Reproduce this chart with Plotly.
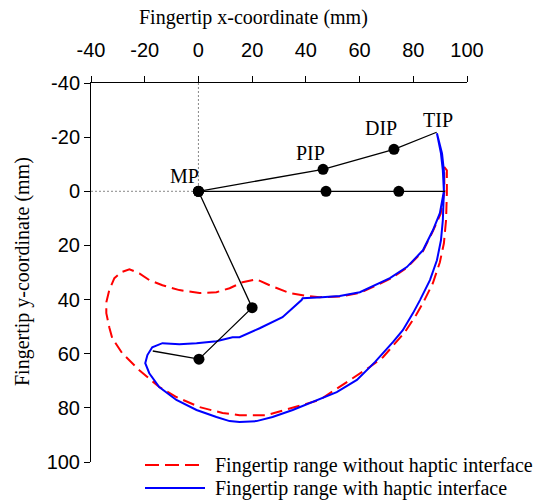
import plotly.graph_objects as go

# ---- data (mm) ----
red_x = [91.5, 92.5, 92.5, 92.2, 91.4, 89.9, 87.3, 83.6, 81.0, 76.9, 68.7, 63.8, 45.1, 30.2, 25.4, 15.3, 9.0,
         0.4, -8.2, -14.6, -22.0, -28.4, -32.1, -33.2, -34.3, -34.3, -33.2, -31.3, -28.7, -25.7, -22.0,
         -18.3, -13.4, -7.1, 0.4, 6.7, 11.6, 16.4, 21.6, 26.5, 34.0, 40.3, 45.1, 52.6, 60.1, 67.5, 71.3,
         77.6, 83.6, 87.3, 90.2, 91.6, 91.5]
red_y = [-9.0, -7.7, 0.7, 10.7, 19.2, 26.2, 33.9, 41.3, 45.8, 52.0, 61.3, 64.9, 77.1, 81.5, 82.7, 82.7, 81.9,
         79.7, 76.0, 72.3, 66.1, 59.8, 54.2, 50.2, 45.0, 41.0, 36.5, 32.1, 29.9, 28.8, 30.3,
         32.8, 34.7, 36.5, 37.6, 37.3, 35.8, 33.6, 32.5, 34.7, 37.6, 38.7, 39.1, 38.9, 37.5, 34.2, 32.4,
         28.3, 22.1, 14.7, 8.3, 0.0, -9.0]

blue_x = [88.8, 90.7, 91.4, 91.4, 91.0, 90.3, 88.8, 86.2, 82.5, 79.9, 76.1, 72.4, 65.7, 59.0, 51.5, 42.5,
          35.1, 27.6, 21.6, 15.3, 11.6, 6.7, -0.7, -8.2, -14.6, -18.3, -19.8, -19.0, -17.2, -13.4, -7.1,
          -0.7, 6.7, 12.7, 15.3, 22.8, 31.3, 38.4, 38.8, 45.9, 52.6, 60.1, 67.5, 71.3, 77.6, 83.6, 87.3,
          89.9, 91.4, 91.0, 90.3, 88.8]
blue_y = [-21.4, -14.0, -7.7, 0.0, 10.7, 18.1, 25.5, 32.8, 40.2, 45.0, 51.3, 55.7, 63.1, 69.7, 74.2, 77.9,
          80.8, 83.4, 84.9, 85.2, 84.9, 83.4, 80.8, 77.1, 72.3, 67.2, 63.5, 60.5, 57.6, 56.1, 56.5,
          56.1, 55.4, 53.9, 53.9, 50.6, 46.5, 40.2, 39.5, 39.1, 38.7, 37.3, 33.9, 32.1, 28.0, 21.8, 14.4,
          8.1, 0.0, -7.7, -14.0, -21.4]

# finger segments: MP, PIP, DIP, TIP
up_x = [0, 46.4, 72.8, 88.7]
up_y = [0, -8.1, -15.5, -21.8]
flat_x = [0, 47.5, 74.6, 91.8]
flat_y = [0, 0, 0, 0]
down_x = [0, 20.0, 0.2, -17.0]
down_y = [0, 43.0, 62.0, 59.0]

joint_labels = ["MP", "PIP", "DIP", "TIP"]
label_x = [-5.2, 41.8, 67.9, 89.2]
label_y = [-5.5, -14.0, -23.2, -26.2]

x_ticks = [-40, -20, 0, 20, 40, 60, 80, 100]
x_ticktext = ["-40", "-20", "0", "20", "40", "60", "80", "100"]
y_ticks = [-40, -20, 0, 20, 40, 60, 80, 100]
y_ticktext = ["-40", "-20", "0", "20", "40", "60", "80", "100"]

legend_names = ["Fingertip range without haptic interface", "Fingertip range with haptic interface"]

SERIF = "Liberation Serif, Times New Roman, serif"
SANS = "Liberation Sans, Arial, sans-serif"

# plot area in reference pixels (for placing decorations in paper coords)
W, H = 534, 503
PL, PR, PT, PB = 91, 467, 83, 462
PW, PH = PR - PL, PB - PT


def px(xp):
    return (xp - PL) / PW


def py(yp):
    return (PB - yp) / PH


fig = go.Figure()

# reference dotted lines
fig.add_trace(go.Scatter(x=[0, 0], y=[-40, 0], mode="lines",
                         line=dict(color="#888888", width=1, dash="2px,2px"), showlegend=False, hoverinfo="skip"))
fig.add_trace(go.Scatter(x=[-40, 0], y=[0, 0], mode="lines",
                         line=dict(color="#888888", width=1, dash="2px,2px"), showlegend=False, hoverinfo="skip"))

fig.add_trace(go.Scatter(x=red_x, y=red_y, mode="lines", name=legend_names[0],
                         line=dict(color="#ff0000", width=2, dash="12px,6px"), showlegend=False))
fig.add_trace(go.Scatter(x=blue_x, y=blue_y, mode="lines", name=legend_names[1],
                         line=dict(color="#0000ff", width=2), showlegend=False))

for xs, ys in [(up_x, up_y), (flat_x, flat_y), (down_x, down_y)]:
    fig.add_trace(go.Scatter(x=xs, y=ys, mode="lines", line=dict(color="black", width=1.3),
                             showlegend=False, hoverinfo="skip"))
    fig.add_trace(go.Scatter(x=xs[:3], y=ys[:3], mode="markers",
                             marker=dict(color="black", size=11), showlegend=False))

for t, lx, ly in zip(joint_labels, label_x, label_y):
    fig.add_annotation(x=lx, y=ly, text=t, showarrow=False, xref="x", yref="y",
                       xanchor="center", yanchor="middle",
                       font=dict(family=SERIF, size=20, color="black"))

# axis titles
fig.add_annotation(xref="paper", yref="paper", x=px(253), y=py(17), text="Fingertip x-coordinate (mm)",
                   xanchor="center", yanchor="middle", showarrow=False,
                   font=dict(family=SERIF, size=20, color="black"))
fig.add_annotation(xref="paper", yref="paper", x=px(22), y=py(272),
                   text="Fingertip y-coordinate (mm)", textangle=-90, showarrow=False,
                   xanchor="center", yanchor="middle",
                   font=dict(family=SERIF, size=20, color="black"))

# manual legend
leg_rows = [465, 488]
leg_styles = [dict(color="#ff0000", width=2, dash="14px,6px"), dict(color="#0000ff", width=2)]
for name, row, st in zip(legend_names, leg_rows, leg_styles):
    fig.add_shape(type="line", xref="paper", yref="paper", x0=px(145), x1=px(205),
                  y0=py(row), y1=py(row), line=st)
    fig.add_annotation(xref="paper", yref="paper", x=px(213), y=py(row), xanchor="left",
                       yanchor="middle", text=name, showarrow=False,
                       font=dict(family=SERIF, size=20, color="black"))

fig.update_xaxes(range=[-40, 100], side="top", tickvals=x_ticks, ticktext=x_ticktext, ticks="outside",
                 ticklen=6, tickcolor="black", showline=True, linecolor="black", linewidth=1,
                 showgrid=False, zeroline=False, tickfont=dict(family=SANS, size=20, color="black"),
                 ticklabelstandoff=11)
fig.update_yaxes(range=[100, -40], tickvals=y_ticks, ticktext=y_ticktext, ticks="outside", ticklen=6,
                 tickcolor="black", showline=True, linecolor="black", linewidth=1, showgrid=False,
                 zeroline=False, tickfont=dict(family=SANS, size=20, color="black"))

fig.update_layout(width=W, height=H,
                  margin=dict(l=PL, r=W - PR, t=PT, b=H - PB),
                  plot_bgcolor="white", paper_bgcolor="white", showlegend=False)

fig.write_html("out.html", config={"displayModeBar": False},
               post_script="document.body.style.margin='0';document.body.style.overflow='hidden';")
